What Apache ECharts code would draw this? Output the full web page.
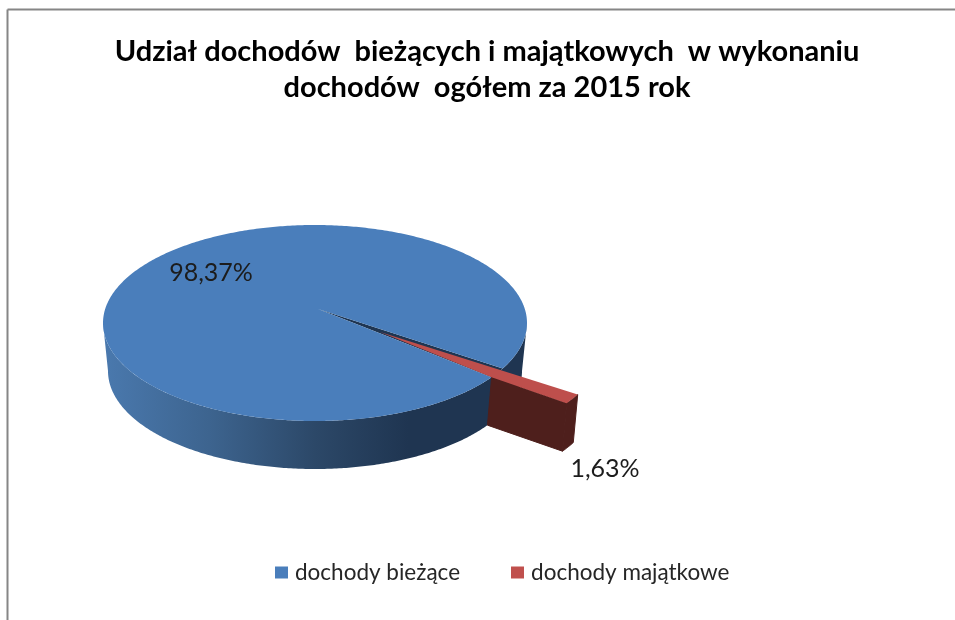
<!DOCTYPE html>
<html>
<head>
<meta charset="utf-8">
<style>html,body{margin:0;padding:0;background:#fff}#c{width:955px;height:620px}</style>
<script src="https://cdn.jsdelivr.net/npm/echarts@6/dist/echarts.min.js"></script>
</head>
<body>
<div id="c"></div>
<script>
const categories = ['dochody bieżące', 'dochody majątkowe'];
const values = [98.37, 1.63];
const labels = ['98,37%', '1,63%'];
const titleLines = ['Udział dochodów  bieżących i majątkowych  w wykonaniu', 'dochodów  ogółem za 2015 rok'];

const FONT = 'Lato';
const total = values.reduce((a, b) => a + b, 0);
const top3d = {cx: 315, cy: 323, rx: 212, ry: 98};
const bot3d = {cx: 315, cy: 371, rx: 207, ry: 98};
const apex = [318, 309];
const redTip = [380, 332];
const explode = [75, 26];
const startDeg = 27.7;
const sweep = values[1] / total * 360;
const endDeg = startDeg + sweep;
const wallRed = '#4E1F1C';

const pt = (e, deg, off) => {
  const a = deg * Math.PI / 180, o = off || [0, 0];
  return [e.cx + e.rx * Math.cos(a) + o[0], e.cy + e.ry * Math.sin(a) + o[1]];
};
const arc = (e, from, to, off) => {
  const n = Math.max(2, Math.ceil(Math.abs(to - from) * 1.5)), out = [];
  for (let i = 0; i <= n; i++) out.push(pt(e, from + (to - from) * i / n, off));
  return out;
};
const poly = (points, fill, stroke) => ({
  type: 'polygon', shape: {points}, silent: true,
  style: stroke ? {fill, stroke, lineWidth: 1} : {fill}
});
const txt = (s, x, y) => ({
  type: 'text', x, y, silent: true,
  style: {text: s, fill: '#1c1c1c', font: '25px ' + FONT, align: 'center', verticalAlign: 'middle'}
});

function renderBlue() {
  const wallFill = new echarts.graphic.LinearGradient(0, 0, 1, 0, [
    {offset: 0, color: '#4A79AE'},
    {offset: 0.25, color: '#3D648F'},
    {offset: 0.5, color: '#2C4868'},
    {offset: 0.72, color: '#1F3551'},
    {offset: 1, color: '#1F3551'}
  ]);
  return {type: 'group', children: [
    poly(arc(top3d, 0, 180).concat(arc(bot3d, 180, 0)), wallFill),
    poly([apex, ...arc(top3d, startDeg, endDeg)], '#1F3551'),
    poly([apex, ...arc(top3d, endDeg, startDeg + 360)], '#4A7EBB'),
    txt(labels[0], 211, 273)
  ]};
}
function renderRed() {
  return {type: 'group', children: [
    poly([pt(top3d, endDeg), pt(top3d, endDeg, explode), pt(bot3d, endDeg, explode), pt(bot3d, endDeg)], wallRed, wallRed),
    poly(arc(top3d, startDeg, endDeg, explode).concat(arc(bot3d, endDeg, startDeg, explode)), wallRed, wallRed),
    poly([redTip, ...arc(top3d, startDeg, endDeg, explode), pt(top3d, endDeg)], '#BE4F4C'),
    txt(labels[1], 605, 469)
  ]};
}

const chart = echarts.init(document.getElementById('c'), null, {renderer: 'canvas'});
chart.setOption({
  animation: false,
  backgroundColor: '#fff',
  title: {
    text: titleLines.join('\n'),
    left: 482, top: 29, textAlign: 'center',
    textStyle: {fontFamily: FONT, fontSize: 29, fontWeight: 'bold', color: '#000', lineHeight: 36}
  },
  legend: {
    left: 270, top: 556, itemWidth: 13, itemHeight: 12, itemGap: 51, icon: 'rect',
    data: categories,
    textStyle: {fontFamily: FONT, fontSize: 22.5, color: '#262626', padding: [0, 0, 0, 2]}
  },
  graphic: [
    {type: 'line', silent: true, shape: {x1: 7.5, y1: 9.5, x2: 955, y2: 9.5}, style: {stroke: '#868686', lineWidth: 2}},
    {type: 'line', silent: true, shape: {x1: 7.5, y1: 9.5, x2: 7.5, y2: 620}, style: {stroke: '#868686', lineWidth: 2}}
  ],
  series: [
    {type: 'custom', name: categories[0], coordinateSystem: 'none', data: [[values[0]]],
     itemStyle: {color: '#4A7EBB'}, renderItem: renderBlue, z: 2},
    {type: 'custom', name: categories[1], coordinateSystem: 'none', data: [[values[1]]],
     itemStyle: {color: '#C0504D'}, renderItem: renderRed, z: 3}
  ]
});
</script>
</body>
</html>
